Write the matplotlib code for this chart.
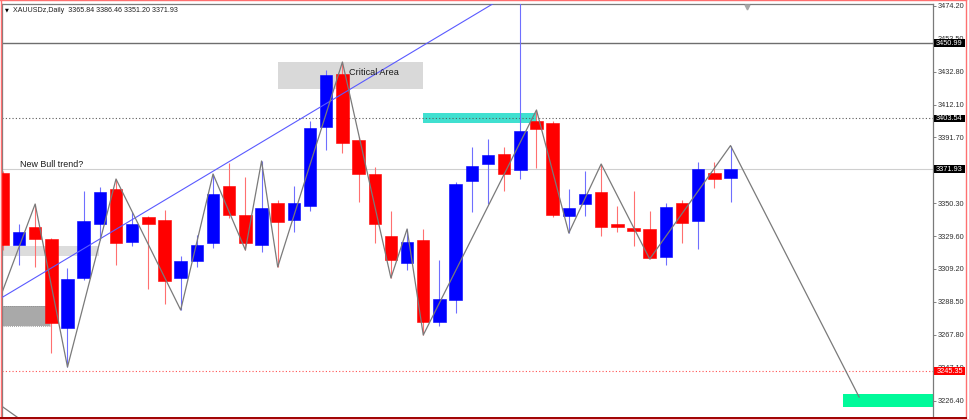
import matplotlib
matplotlib.use("Agg")
import matplotlib.pyplot as plt
import matplotlib.transforms as mtrans
from matplotlib.patches import Rectangle
from matplotlib.lines import Line2D
import numpy as np

plt.rcParams['font.family'] = ['Liberation Sans', 'DejaVu Sans']

# ---------------- data ----------------
symbol_title = "XAUUSDz,Daily  3365.84 3386.46 3351.20 3371.93"

opens = [3369.26, 3324.09, 3335.38, 3327.86, 3272.03, 3303.39, 3337.26, 3359.22, 3325.97, 3341.66,
         3339.77, 3303.39, 3314.05, 3325.35, 3361.10, 3342.91, 3324.09, 3350.44, 3339.77, 3348.56,
         3398.11, 3431.36, 3389.96, 3368.63, 3329.74, 3312.80, 3327.23, 3275.79, 3289.59, 3364.24,
         3374.90, 3381.18, 3371.14, 3401.88, 3400.62, 3342.28, 3349.81, 3357.34, 3337.26, 3334.76,
         3334.13, 3316.56, 3350.44, 3339.15, 3369.26, 3365.84]
highs = [3370.51, 3337.26, 3349.81, 3328.50, 3309.66, 3357.97, 3360.47, 3365.49, 3344.79, 3342.28,
         3346.05, 3317.19, 3330.36, 3368.63, 3375.53, 3366.75, 3376.78, 3352.32, 3361.10, 3401.88,
         3433.87, 3438.89, 3391.84, 3373.02, 3345.42, 3334.13, 3334.13, 3314.68, 3363.61, 3385.57,
         3390.59, 3385.57, 3480.00, 3408.78, 3401.88, 3359.22, 3370.51, 3374.90, 3348.56, 3357.97,
         3345.42, 3350.44, 3352.32, 3376.16, 3376.16, 3386.46]
lows = [3320.95, 3311.55, 3310.29, 3256.34, 3247.56, 3302.14, 3327.23, 3311.55, 3323.46, 3296.49,
        3287.08, 3283.32, 3310.29, 3322.21, 3341.03, 3320.95, 3319.70, 3310.29, 3332.25, 3345.42,
        3383.68, 3381.80, 3351.07, 3325.35, 3303.39, 3308.41, 3267.63, 3273.28, 3281.44, 3344.79,
        3349.81, 3357.97, 3365.49, 3372.39, 3341.66, 3331.62, 3342.28, 3329.74, 3332.25, 3323.46,
        3315.31, 3311.55, 3325.35, 3321.58, 3359.85, 3351.20]
closes = [3324.09, 3332.25, 3327.86, 3275.16, 3302.76, 3339.15, 3357.34, 3325.35, 3337.26, 3337.26,
          3301.51, 3314.05, 3324.09, 3356.08, 3342.91, 3325.35, 3347.30, 3338.52, 3350.44, 3397.49,
          3430.73, 3388.08, 3368.63, 3337.26, 3314.68, 3325.97, 3275.79, 3290.22, 3362.36, 3373.65,
          3380.55, 3368.63, 3395.60, 3396.86, 3342.91, 3347.30, 3356.08, 3335.38, 3335.38, 3332.87,
          3315.94, 3347.93, 3337.89, 3371.77, 3365.49, 3371.93]

# zigzag swing points (bar index, price)
zz_idx = [-1, 2, 4, 7, 11, 13, 15, 16, 17, 21, 24, 25, 26, 33, 35, 37, 40, 45, 52.95]
zz_price = [3268.5, 3349.81, 3247.56, 3365.49, 3283.32, 3368.63, 3320.95, 3376.78, 3310.29, 3438.89,
            3303.39, 3334.13, 3267.63, 3408.78, 3331.62, 3374.90, 3315.31, 3386.46, 3228.74]
prev_seg_idx = [-1, 1.5]
prev_seg_price = [3229.7, 3211.7]

trend_idx = [-1, 31]
trend_price = [3285.4, 3479.6]

# horizontal levels
level_solid = 3450.99
level_dotted = 3403.54
level_bid = 3371.93
level_red = 3245.35

# rectangles: (x0, x1, p_low, p_high)
rect_critical = (17.02, 25.99, 3422.0, 3438.9)
rect_lightgray = (-1.0, 5.95, 3317.2, 3323.5)
rect_darkgray = (-1.0, 2.92, 3273.3, 3285.8)
rect_cyan = (25.99, 32.97, 3400.6, 3406.9)
rect_green = (51.96, 60.0, 3222.5, 3230.6)

yticks = [3474.20, 3453.50, 3432.80, 3412.10, 3391.70, 3371.00, 3350.30, 3329.60,
          3309.20, 3288.50, 3267.80, 3247.10, 3226.40]
hidden_ticks = [3371.00]

price_tags = [(3450.99, 'black'), (3403.54, 'black'), (3371.93, 'black'), (3245.35, '#ff0000')]

# ---------------- figure ----------------
W, H = 969, 419
fig = plt.figure(figsize=(W / 100, H / 100), dpi=100)
fig.patch.set_facecolor('white')
ax = fig.add_axes([2 / W, 2 / H, 931 / W, 413 / H])
ax.set_facecolor('white')

ax.set_xlim(-0.05, 57.52)
ax.set_ylim(3216.2, 3475.27)

o = np.array(opens); h = np.array(highs); l = np.array(lows); c = np.array(closes)
idx = np.arange(len(o))
up = c >= o
body_col = np.where(up, '#0000ff', '#ff0000')
wick_col = np.where(up, '#6f6fff', '#ff7070')

# rectangles (background)
def add_rect(r, color, z=1):
    x0, x1, p0, p1 = r
    ax.add_patch(Rectangle((x0, p0), x1 - x0, p1 - p0, facecolor=color, edgecolor='none', zorder=z))

add_rect(rect_critical, '#d9d9d9')
add_rect(rect_lightgray, '#dcdcdc')
add_rect(rect_darkgray, '#a9a9a9')
x0, x1, p0, p1 = rect_darkgray
ax.add_patch(Rectangle((x0, p0), x1 - x0, p1 - p0, facecolor='none', edgecolor='#8a8a8a',
                       linestyle=(0, (1, 1.5)), linewidth=0.6, zorder=1.1))
add_rect(rect_cyan, '#40e0d0')
add_rect(rect_green, '#00fa9a')

# horizontal lines
ax.axhline(level_solid, color='#6e6e6e', linewidth=1.0, zorder=2)
ax.axhline(level_dotted, color='#5a5a5a', linewidth=0.8, linestyle=(0, (1, 2)), zorder=2)
ax.axhline(level_bid, color='#cfcfcf', linewidth=0.8, zorder=2)
ax.axhline(level_red, color='#ff5050', linewidth=0.8, linestyle=(0, (1, 2)), zorder=2)

# candles
ax.vlines(idx, l, h, colors=wick_col, linewidth=0.8, zorder=3)
ax.bar(idx, np.abs(c - o), bottom=np.minimum(o, c), width=0.77, color=body_col,
       edgecolor=body_col, linewidth=0.4, zorder=4)

# trend line and zigzag
ax.plot(trend_idx, trend_price, color='#5a5aff', linewidth=0.8, zorder=5)
ax.plot(zz_idx, zz_price, color='#7a7a7a', linewidth=0.9, zorder=5)
ax.plot(prev_seg_idx, prev_seg_price, color='#7a7a7a', linewidth=0.9, zorder=5)

# annotations
ax.text(1.06, 3374.3, "New Bull trend?", fontsize=6.4, color='#1a1a1a', va='center', ha='left', zorder=6)
ax.text(21.4, 3432.6, "Critical Area", fontsize=6.6, color='#1a1a1a', va='center', ha='left', zorder=6)

# chart-shift marker at top
tr_top = mtrans.blended_transform_factory(ax.transData, ax.transAxes)
ax.plot([46.0], [0.992], marker='v', markersize=3.5, color='#a8a8a8', transform=tr_top,
        clip_on=False, zorder=7, linestyle='none')

# axis styling
for s in ['left', 'top', 'right']:
    ax.spines[s].set_color('#7a7a7a')
    ax.spines[s].set_linewidth(0.9)
ax.spines['bottom'].set_visible(False)
ax.set_xticks([])
ax.yaxis.tick_right()
ax.set_yticks(yticks)
ax.set_yticklabels(["" if v in hidden_ticks else f"{v:.2f}" for v in yticks])
ax.tick_params(axis='y', length=2.2, width=0.6, color='#707070', labelsize=5.3,
               labelcolor='#303030', pad=1.0)

# price tags on the axis
tr_tag = mtrans.blended_transform_factory(fig.transFigure, ax.transData)
for price, col in price_tags:
    ax.add_patch(Rectangle((934 / W, price - 2.6), 31 / W, 5.0, facecolor=col, edgecolor='none',
                           transform=tr_tag, clip_on=False, zorder=10))
    ax.text(949.5 / W, price - 0.3, f"{price:.2f}", transform=tr_tag, fontsize=5.3, color='white',
            ha='center', va='center', clip_on=False, zorder=11)

# header
fig.text(5 / W, 1 - 10 / H, "\u25BC", fontsize=3.6, color='black', va='center', ha='left',
         family=['DejaVu Sans'])
fig.text(13 / W, 1 - 10 / H, symbol_title, fontsize=5.1, color='#202020', va='center', ha='left')

# window borders
fig.add_artist(Line2D([0.5 / W, 0.5 / W], [0, 1], color='#ff7070', linewidth=1.0, transform=fig.transFigure))
fig.add_artist(Line2D([0, 966 / W], [1 - 0.5 / H, 1 - 0.5 / H], color='#ff7070', linewidth=1.0, transform=fig.transFigure))
fig.add_artist(Line2D([966 / W, 966 / W], [0, 1], color='#ff7070', linewidth=1.0, transform=fig.transFigure))
fig.add_artist(Line2D([0, 966 / W], [1 / H, 1 / H], color='#a00000', linewidth=1.4, transform=fig.transFigure))

fig.savefig("out.png", dpi=100, facecolor='white')
